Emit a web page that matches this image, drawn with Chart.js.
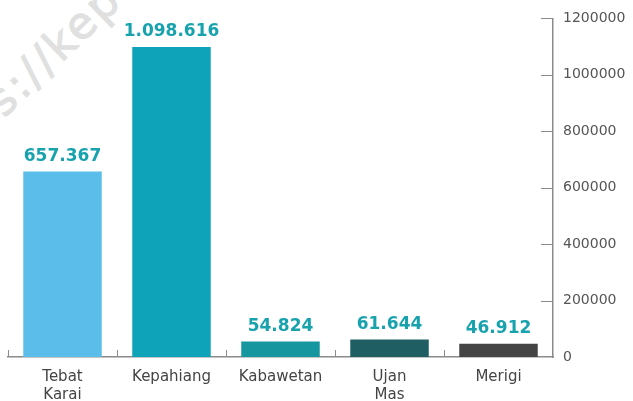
<!DOCTYPE html>
<html>
<head>
<meta charset="utf-8">
<script src="https://cdn.jsdelivr.net/npm/chart.js@4/dist/chart.umd.min.js"></script>
<style>
    html, body { margin: 0; padding: 0; background: #fff; }
    #wrap { position: relative; width: 633px; height: 401px; overflow: hidden; }
    #mark {
        position: absolute; left: -98px; top: 160px;
        font: 44px "DejaVu Sans", sans-serif; letter-spacing: 3px; color: #e0e0e0;
        -webkit-text-stroke: 1px #e0e0e0;
        transform: rotate(-44deg); transform-origin: left top; white-space: nowrap;
    }
    #chart { position: absolute; left: 0; top: 0; }
</style>
</head>
<body>
<div id="wrap">
    <div id="mark">https://kepahiangkab.bps.go.id</div>
    <canvas id="chart" width="633" height="401"></canvas>
</div>
<script>
const categories = [["Tebat", "Karai"], "Kepahiang", "Kabawetan", ["Ujan", "Mas"], "Merigi"];
const values = [657367, 1098616, 54824, 61644, 46912];
const barColors = ["#5bbdea", "#0ea3b8", "#16969f", "#1f5f63", "#444444"];
const yTicks = [0, 200000, 400000, 600000, 800000, 1000000, 1200000];

function fmt(v) {
    return v.toString().replace(/\B(?=(\d{3})+(?!\d))/g, ".");
}

// value labels above bars + inward tick marks
const extras = {
    id: "extras",
    afterDatasetsDraw(c) {
        const ctx = c.ctx;
        const meta = c.getDatasetMeta(0);
        ctx.save();
        ctx.fillStyle = "#17a2ae";
        ctx.font = "bold 17px 'DejaVu Sans', sans-serif";
        ctx.textAlign = "center";
        ctx.textBaseline = "alphabetic";
        meta.data.forEach((bar, i) => {
            ctx.fillText(fmt(values[i]), bar.x, bar.y - 11);
        });

        const y = c.scales.y, x = c.scales.x;
        const bottom = c.chartArea.bottom;
        ctx.strokeStyle = "#8a8a8a";
        ctx.lineWidth = 1;
        yTicks.forEach(t => {
            if (t === 0) return;
            const py = Math.round(y.getPixelForValue(t)) + 0.5;
            ctx.beginPath();
            ctx.moveTo(y.left - 12, py);
            ctx.lineTo(y.left, py);
            ctx.stroke();
        });
        // small upward ticks between categories
        const step = x.getPixelForValue(1) - x.getPixelForValue(0);
        for (let i = 0; i < categories.length; i++) {
            const px = Math.round(x.getPixelForValue(i) - step / 2) + 0.5;
            ctx.beginPath();
            ctx.moveTo(px, bottom - 7);
            ctx.lineTo(px, bottom);
            ctx.stroke();
        }
        ctx.restore();
    }
};

new Chart(document.getElementById("chart"), {
    type: "bar",
    data: {
        labels: categories,
        datasets: [{
            data: values,
            backgroundColor: barColors,
            categoryPercentage: 1,
            barPercentage: 0.72
        }]
    },
    options: {
        responsive: false,
        animation: false,
        layout: { padding: { left: 8, top: 10, right: 0, bottom: 0 } },
        plugins: { legend: { display: false }, tooltip: { enabled: false } },
        scales: {
            x: {
                grid: { display: false, drawTicks: false, tickLength: 0 },
                border: { color: "#8a8a8a", width: 1.5 },
                ticks: {
                    color: "#444",
                    font: { family: "DejaVu Sans", size: 15, lineHeight: 1.2 },
                    padding: 11,
                    maxRotation: 0
                },
                afterFit: s => { s.height = 44; }
            },
            y: {
                position: "right",
                min: 0,
                max: 1200000,
                afterBuildTicks: s => { s.ticks = yTicks.map(v => ({ value: v })); },
                grid: { display: false, drawTicks: false, tickLength: 0 },
                border: { color: "#8a8a8a", width: 1.5 },
                ticks: {
                    color: "#555",
                    font: { family: "DejaVu Sans", size: 14 },
                    padding: 10,
                    callback: v => String(v)
                },
                afterFit: s => { s.width = 80; }
            }
        }
    },
    plugins: [extras]
});
</script>
</body>
</html>
